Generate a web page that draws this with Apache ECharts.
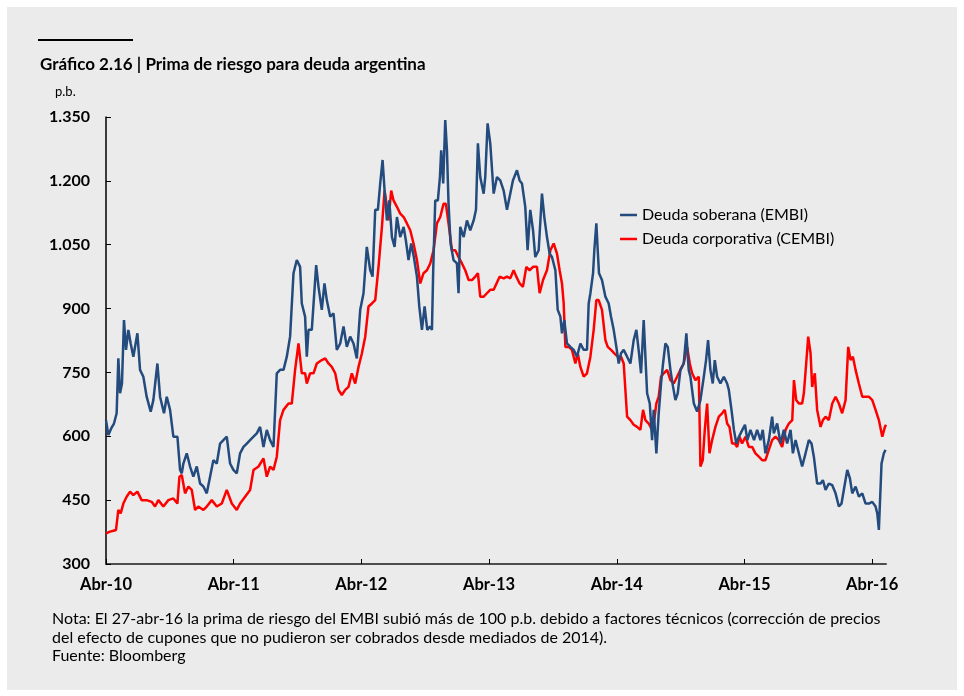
<!DOCTYPE html>
<html lang="es">
<head>
<meta charset="UTF-8">
<title>Prima de riesgo para deuda argentina</title>
<script src="https://cdn.jsdelivr.net/npm/echarts@6/dist/echarts.min.js"></script>
<style>
  html, body { margin: 0; padding: 0; background: #fff; }
  #main { width: 964px; height: 696px; }
</style>
</head>
<body>
<div id="main"></div>
<script>
// meses desde abril de 2010, spread en p.b.
var embi = [
  [0,638],[0.22,603],[0.5,619],[0.75,630],[1,654],[1.16,783],[1.32,701],[1.5,724],[1.69,873],[1.88,803],
  [2.1,850],[2.32,818],[2.57,787],[2.95,842],[3.2,756],[3.51,740],[3.82,693],[4.2,658],[4.45,685],[4.83,771],
  [5.08,693],[5.45,654],[5.71,693],[6.02,662],[6.33,599],[6.71,599],[6.96,521],[7.12,513],[7.27,536],[7.59,560],
  [7.9,529],[8.21,505],[8.53,529],[8.84,489],[9.15,482],[9.47,466],[9.78,505],[10.09,544],[10.41,536],[10.72,583],
  [11.03,591],[11.35,599],[11.66,536],[11.97,521],[12.29,513],[12.6,560],[12.92,575],[13.23,583],[13.54,591],[13.86,599],
  [14.17,607],[14.48,622],[14.8,575],[15.11,615],[15.42,591],[15.74,575],[16.05,748],[16.36,756],[16.68,756],[16.99,787],
  [17.3,834],[17.62,983],[17.93,1014],[18.24,998],[18.4,912],[18.71,881],[18.87,787],[19.03,850],[19.34,850],[19.75,1002],
  [19.97,951],[20.28,897],[20.53,959],[20.75,920],[21.07,881],[21.38,889],[21.69,803],[22.01,818],[22.32,858],[22.63,810],
  [22.95,834],[23.26,818],[23.57,783],[23.89,897],[24.2,936],[24.51,1045],[24.83,990],[25.05,975],[25.3,1132],[25.55,1132],
  [25.77,1194],[25.99,1249],[26.18,1177],[26.4,1107],[26.62,1154],[26.87,1068],[27.12,1045],[27.34,1115],[27.65,1068],[27.97,1092],
  [28.18,1060],[28.43,1014],[28.68,1053],[28.93,1021],[29.22,975],[29.44,905],[29.69,850],[29.94,905],[30.19,850],[30.44,858],
  [30.63,850],[30.75,990],[30.94,1154],[31.19,1154],[31.38,1209],[31.5,1272],[31.69,1194],[31.88,1343],[32.04,1272],[32.19,1146],
  [32.38,1053],[32.66,1014],[32.98,1006],[33.13,936],[33.29,1092],[33.61,1068],[33.92,1107],[34.23,1084],[34.55,1107],[34.77,1132],
  [34.95,1288],[35.17,1209],[35.49,1170],[35.64,1209],[35.86,1335],[36.11,1288],[36.43,1170],[36.74,1209],[37.05,1201],[37.37,1177],
  [37.68,1132],[37.99,1170],[38.24,1201],[38.62,1225],[38.87,1201],[39.09,1194],[39.4,1139],[39.62,1037],[39.87,1132],[40.13,1084],
  [40.34,1021],[40.66,1037],[40.97,1170],[41.19,1115],[41.44,1068],[41.69,1029],[41.91,1021],[42.23,990],[42.45,897],[42.7,881],
  [42.85,842],[43.07,873],[43.32,818],[43.64,810],[43.95,803],[44.26,787],[44.58,818],[44.89,803],[45.2,803],[45.36,912],
  [45.52,936],[45.77,983],[45.89,1037],[46.08,1100],[46.21,1037],[46.33,983],[46.61,967],[46.93,928],[47.24,912],[47.46,881],
  [47.71,850],[47.96,810],[48.18,771],[48.4,795],[48.65,803],[48.97,787],[49.28,771],[49.59,826],[49.84,850],[50.09,795],
  [50.28,748],[50.53,873],[50.69,787],[50.85,701],[51.1,677],[51.32,591],[51.47,662],[51.72,560],[51.94,654],[52.16,724],
  [52.35,771],[52.57,818],[52.79,810],[53.04,756],[53.29,716],[53.51,685],[53.73,701],[53.98,756],[54.29,771],[54.54,842],
  [54.76,756],[54.92,740],[55.24,677],[55.55,658],[55.86,685],[56.18,740],[56.39,779],[56.58,826],[56.8,756],[57.02,724],
  [57.21,779],[57.43,740],[57.74,724],[58.06,740],[58.37,724],[58.53,709],[58.78,662],[59.01,615],[59.23,583],[59.48,599],
  [59.8,615],[60.05,627],[60.27,591],[60.56,615],[60.9,591],[61.19,615],[61.5,591],[61.72,615],[61.97,560],[62.29,591],
  [62.6,646],[62.76,607],[63.07,630],[63.39,583],[63.7,615],[64.01,583],[64.33,615],[64.55,560],[64.8,591],[65.11,560],
  [65.42,529],[65.74,560],[66.05,591],[66.3,583],[66.52,552],[66.83,489],[67.15,489],[67.37,497],[67.62,474],[67.93,489],
  [68.25,485],[68.56,466],[68.87,435],[69.12,442],[69.44,489],[69.66,521],[69.91,501],[70.13,466],[70.44,482],[70.75,458],
  [71.07,466],[71.38,442],[71.69,442],[72.01,446],[72.32,435],[72.48,419],[72.63,380],[72.88,536],[73.1,560],[73.26,568]
];

var cembi = [
  [0,372],[0.38,376],[0.69,378],[0.94,380],[1.16,427],[1.38,419],[1.63,442],[1.94,458],[2.26,470],[2.57,462],
  [2.95,470],[3.35,450],[3.82,450],[4.29,446],[4.61,435],[4.92,450],[5.39,435],[5.86,450],[6.33,454],[6.71,442],
  [6.9,505],[7.12,509],[7.43,466],[7.74,482],[8.06,474],[8.37,427],[8.68,435],[9.15,427],[9.47,435],[9.94,450],
  [10.41,435],[10.88,442],[11.35,474],[11.82,442],[12.29,427],[12.6,442],[13.07,458],[13.54,474],[13.86,521],[14.33,529],
  [14.8,548],[15.11,505],[15.42,529],[15.74,521],[16.05,552],[16.36,638],[16.68,662],[17.15,677],[17.46,677],[17.77,756],
  [18.09,818],[18.4,748],[18.71,748],[18.87,724],[19.18,748],[19.5,748],[19.81,771],[20.28,779],[20.6,783],[20.91,771],
  [21.22,763],[21.54,748],[21.85,709],[22.16,697],[22.48,709],[22.79,716],[23.1,748],[23.42,724],[23.73,763],[24.05,795],
  [24.36,834],[24.67,905],[24.99,912],[25.3,920],[25.61,998],[25.93,1092],[26.18,1177],[26.4,1139],[26.55,1107],[26.8,1177],
  [27.02,1154],[27.34,1139],[27.65,1123],[27.97,1115],[28.28,1100],[28.59,1084],[28.9,1053],[29.22,1014],[29.53,959],[29.84,983],
  [30.16,990],[30.47,1006],[30.78,1037],[31.1,1100],[31.41,1115],[31.72,1146],[31.94,1146],[32.19,1100],[32.51,1037],[32.82,1037],
  [33.13,1021],[33.45,1006],[33.76,990],[34.08,967],[34.39,967],[34.7,975],[34.95,983],[35.17,928],[35.49,928],[35.8,936],
  [36.11,944],[36.43,944],[36.58,940],[36.99,975],[37.37,971],[37.68,975],[37.99,971],[38.31,990],[38.56,975],[38.87,959],
  [39.18,951],[39.5,998],[39.81,990],[40.13,998],[40.5,998],[40.75,936],[41.07,967],[41.44,990],[41.76,1037],[42.07,1053],
  [42.38,1029],[42.63,990],[42.85,959],[43.01,912],[43.17,810],[43.49,810],[43.79,803],[44.11,771],[44.33,795],[44.58,763],
  [44.89,740],[45.2,748],[45.52,787],[45.83,850],[46.08,920],[46.3,920],[46.61,897],[46.93,826],[47.15,810],[47.46,803],
  [47.77,795],[48.09,787],[48.4,787],[48.65,771],[48.97,646],[49.28,638],[49.59,627],[49.91,622],[50.22,615],[50.47,662],
  [50.69,638],[51,630],[51.32,615],[51.47,630],[51.72,677],[51.94,693],[52.16,740],[52.41,748],[52.73,756],[53.04,732],
  [53.35,724],[53.67,740],[53.98,756],[54.29,771],[54.61,810],[54.86,771],[55.08,748],[55.39,732],[55.71,740],[55.86,529],
  [56.08,544],[56.27,615],[56.49,677],[56.71,560],[56.96,591],[57.27,622],[57.59,646],[57.9,654],[58.15,662],[58.37,630],
  [58.59,622],[58.84,583],[59.09,583],[59.31,575],[59.53,599],[59.78,583],[60.09,599],[60.41,575],[60.72,575],[61.03,560],
  [61.35,552],[61.66,544],[61.97,544],[62.29,568],[62.6,591],[62.91,599],[63.23,591],[63.54,575],[63.86,615],[64.17,630],
  [64.49,638],[64.65,732],[64.86,685],[65.11,677],[65.42,677],[65.58,701],[65.8,771],[65.99,834],[66.21,795],[66.36,716],
  [66.61,748],[66.83,662],[67.15,622],[67.37,638],[67.62,646],[67.93,638],[68.25,677],[68.56,693],[68.87,677],[69.18,654],
  [69.5,685],[69.75,810],[69.97,779],[70.19,787],[70.44,756],[70.75,724],[71.07,693],[71.38,693],[71.69,693],[72.01,685],
  [72.32,662],[72.63,638],[72.95,599],[73.2,622],[73.3,627]
];

var yearTicks = [0, 12, 24, 36, 48, 60, 72];
var yearLabels = ['Abr-10', 'Abr-11', 'Abr-12', 'Abr-13', 'Abr-14', 'Abr-15', 'Abr-16'];
var seriesNames = ['Deuda soberana (EMBI)', 'Deuda corporativa (CEMBI)'];

var FONT = 'Lato, "Open Sans", sans-serif';

function miles(v) {
    if (v >= 1000) {
        return Math.floor(v / 1000) + '.' + String(v % 1000).padStart(3, '0');
    }
    return String(v);
}

var chart = echarts.init(document.getElementById('main'), null, {renderer: 'canvas'});

var option = {
    animation: false,
    backgroundColor: '#ffffff',
    graphic: [
        {type: 'rect', left: 7, top: 7, shape: {width: 950, height: 683}, style: {fill: '#ebebeb'}, z: -10},
        {type: 'rect', left: 38, top: 39, shape: {width: 95, height: 2}, style: {fill: '#000'}}
    ],
    title: [
        {
            text: 'Gráfico 2.16 | Prima de riesgo para deuda argentina',
            left: 35, top: 51,
            textStyle: {fontFamily: FONT, fontSize: 17, fontWeight: 'bold', color: '#000'}
        },
        {
            text: 'p.b.',
            left: 50, top: 80,
            textStyle: {fontFamily: FONT, fontSize: 13, fontWeight: 'normal', color: '#000'}
        },
        {
            text: 'Nota: El 27-abr-16 la prima de riesgo del EMBI subió más de 100 p.b. debido a factores técnicos (corrección de precios\n' +
                  'del efecto de cupones que no pudieron ser cobrados desde mediados de 2014).\nFuente: Bloomberg',
            left: 47, top: 605,
            textStyle: {fontFamily: FONT, fontSize: 16, fontWeight: 'normal', color: '#000', lineHeight: 18.5}
        }
    ],
    legend: {
        data: seriesNames,
        orient: 'vertical',
        left: 615, top: 202,
        itemGap: 8,
        itemWidth: 17, itemHeight: 2.5,
        icon: 'rect',
        textStyle: {fontFamily: FONT, fontSize: 16, color: '#000'}
    },
    grid: {left: 106, right: 78, top: 117, bottom: 132},
    xAxis: {
        type: 'value',
        min: 0, max: 73.3,
        axisLine: {lineStyle: {color: '#4d4d4d', width: 2}},
        axisTick: {inside: true, length: 5, customValues: yearTicks, lineStyle: {color: '#000', width: 1}},
        axisLabel: {
            customValues: yearTicks,
            margin: 12,
            fontFamily: FONT, fontSize: 16.5, fontWeight: 'bold', color: '#000',
            formatter: function (v) { return yearLabels[yearTicks.indexOf(v)] || ''; }
        },
        splitLine: {show: false}
    },
    yAxis: {
        type: 'value',
        min: 300, max: 1350, interval: 150,
        axisLine: {show: true, lineStyle: {color: '#000', width: 1.5}},
        axisTick: {show: true, inside: true, length: 5, lineStyle: {color: '#000'}},
        axisLabel: {
            margin: 16,
            fontFamily: FONT, fontSize: 16, fontWeight: 'bold', color: '#000',
            formatter: miles
        },
        splitLine: {show: false}
    },
    series: [
        {
            name: seriesNames[0],
            type: 'line',
            data: embi,
            showSymbol: false,
            z: 3,
            lineStyle: {color: '#234b7d', width: 2.5},
            itemStyle: {color: '#234b7d'}
        },
        {
            name: seriesNames[1],
            type: 'line',
            data: cembi,
            showSymbol: false,
            z: 2,
            lineStyle: {color: '#ff0000', width: 2.5},
            itemStyle: {color: '#ff0000'}
        }
    ]
};

chart.setOption(option);
</script>
</body>
</html>
